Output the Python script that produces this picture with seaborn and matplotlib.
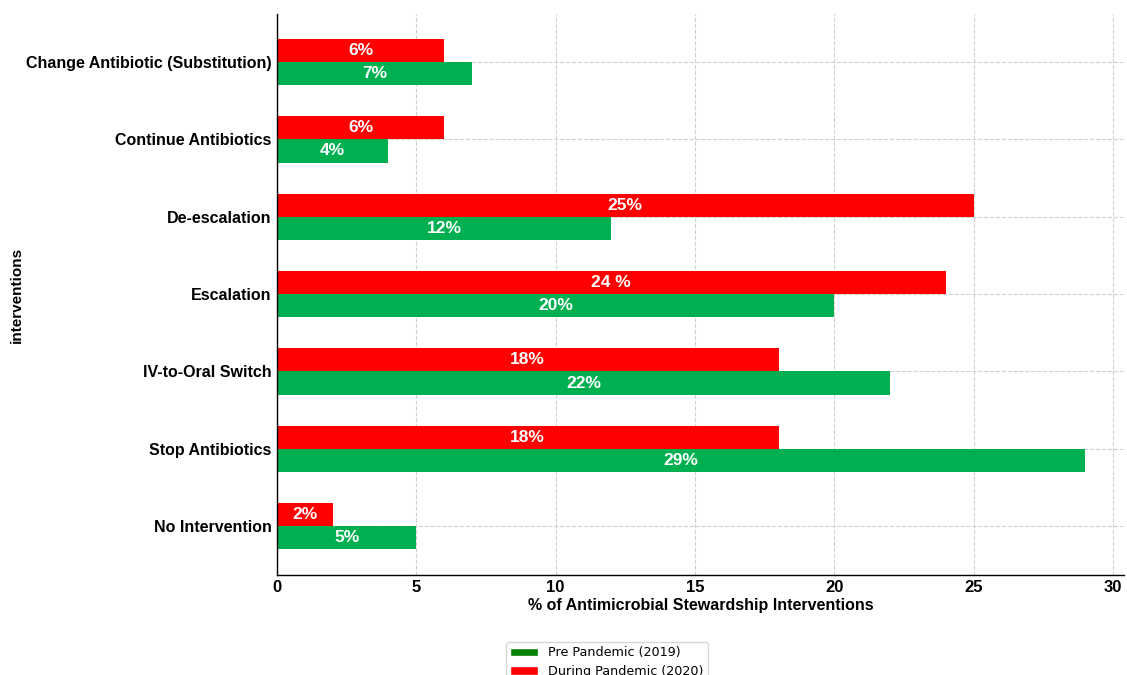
import matplotlib
matplotlib.use("Agg")
import matplotlib.pyplot as plt
from matplotlib.patches import Patch
import seaborn as sns
import pandas as pd

categories = ["Change Antibiotic (Substitution)", "Continue Antibiotics", "De-escalation",
              "Escalation", "IV-to-Oral Switch", "Stop Antibiotics", "No Intervention"]
pre_2019 = [7, 4, 12, 20, 22, 29, 5]
during_2020 = [6, 6, 25, 24, 18, 18, 2]
pre_labels = ["7%", "4%", "12%", "20%", "22%", "29%", "5%"]
during_labels = ["6%", "6%", "25%", "24 %", "18%", "18%", "2%"]
series_names = ["Pre Pandemic (2019)", "During Pandemic (2020)"]
xticks = [0, 5, 10, 15, 20, 25, 30]

df = pd.DataFrame({
    "interventions": categories * 2,
    "value": during_2020 + pre_2019,
    "period": [series_names[1]] * len(categories) + [series_names[0]] * len(categories),
})

sns.set_style("white")
plt.rcParams["font.family"] = ["Liberation Sans", "DejaVu Sans"]
plt.rcParams["text.color"] = "black"
plt.rcParams["axes.labelcolor"] = "black"
plt.rcParams["xtick.color"] = "black"
plt.rcParams["ytick.color"] = "black"

fig = plt.figure(figsize=(11.27, 6.75), dpi=100)
ax = fig.add_axes([277 / 1127, 1 - 575 / 675, (1124 - 277) / 1127, (575 - 14) / 675])

red = "#FF0000"
green = "#00B050"
sns.barplot(data=df, y="interventions", x="value", hue="period",
            hue_order=[series_names[1], series_names[0]],
            palette=[red, green], order=categories, orient="h",
            width=0.6, saturation=1, ax=ax, legend=False, linewidth=0)

for cont, labs in zip(ax.containers, [during_labels, pre_labels]):
    ax.bar_label(cont, labels=labs, label_type="center", color="white",
                 fontsize=12.5, fontweight="bold")

ax.set_xlim(0, 30.4)
ax.set_ylim(6.63, -0.62)
ax.set_xticks(xticks)
ax.grid(True, linestyle="--", color="#d0d0d0", linewidth=0.8)
ax.set_axisbelow(True)
for s in ["top", "right"]:
    ax.spines[s].set_visible(False)
for s in ["left", "bottom"]:
    ax.spines[s].set_color("black")
    ax.spines[s].set_linewidth(1.0)

ax.tick_params(axis="y", labelsize=11.5, length=0, pad=4)
for t in ax.get_yticklabels():
    t.set_fontweight("bold")
ax.tick_params(axis="x", length=2, width=0.8, color="black", pad=1.5)
for t in ax.get_xticklabels():
    t.set_family(["Liberation Sans Narrow", "Liberation Sans"])
    t.set_fontweight("bold")
    t.set_fontsize(12)

ax.set_xlabel("% of Antimicrobial Stewardship Interventions", fontsize=11.5,
              fontweight="bold", family=["Liberation Sans Narrow", "Liberation Sans"], labelpad=2)
ax.set_ylabel("interventions", fontsize=11, fontweight="bold")
ax.yaxis.set_label_coords(-253 / 847, 0.5)

handles = [Patch(facecolor="#008000", label=series_names[0]),
           Patch(facecolor=red, label=series_names[1])]
fig.legend(handles=handles, loc="upper center", bbox_to_anchor=(607 / 1127, 1 - 636 / 675),
           prop={"family": "DejaVu Sans", "size": 9.2}, frameon=True, fancybox=True,
           edgecolor="#cccccc", handlelength=2.2, handleheight=0.6, borderpad=0.3,
           labelspacing=0.45)

fig.savefig("out.png", dpi=100)
